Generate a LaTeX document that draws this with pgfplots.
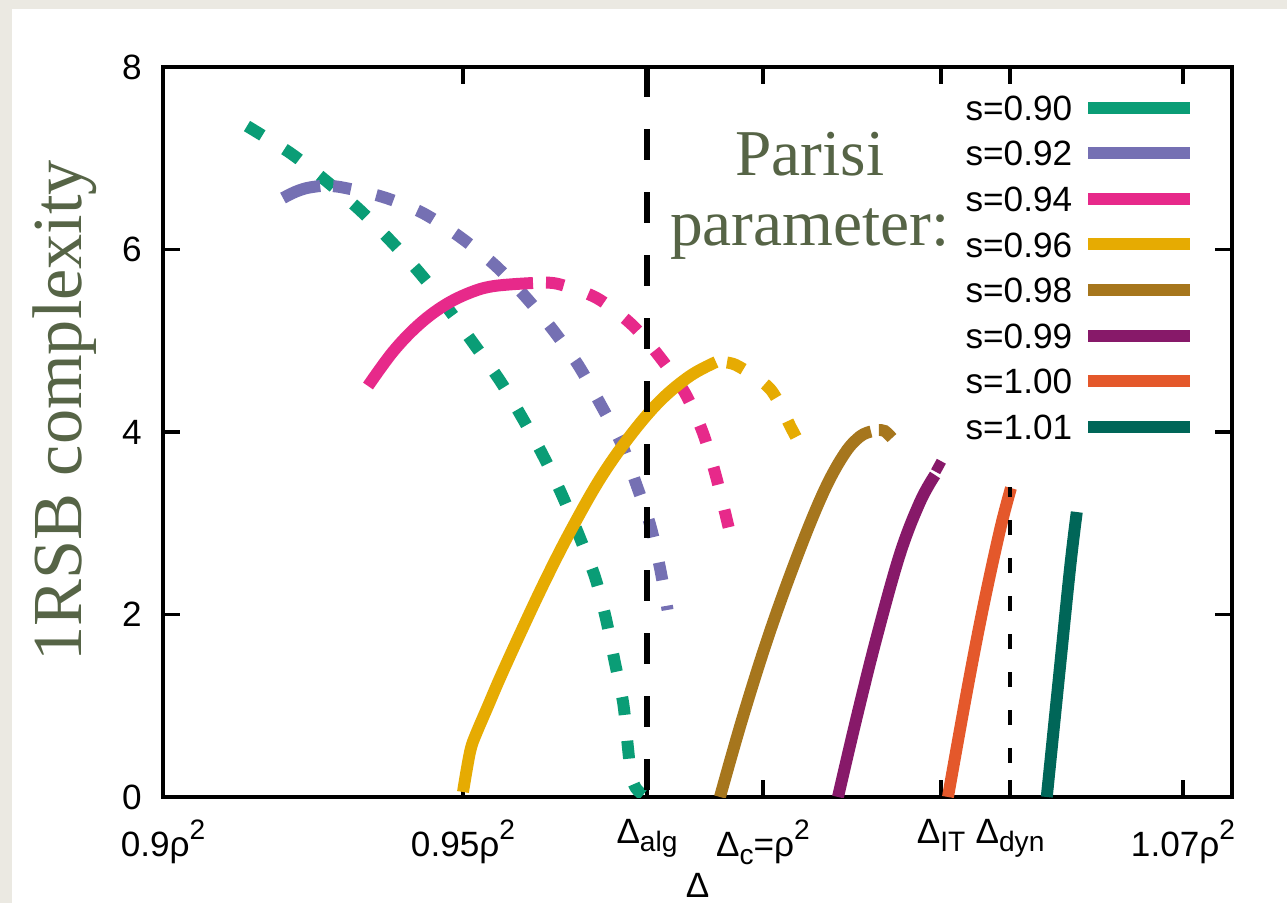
\documentclass[border=0pt]{standalone}
\usepackage{pgfplots}
\pgfplotsset{compat=1.18}
\usepackage{fontspec}
\setmainfont{Liberation Sans}
\newfontfamily\labelserif{Liberation Serif}

\definecolor{bgpaper}{RGB}{235,233,226}
\definecolor{olive}{RGB}{86,100,70}
\definecolor{cA}{RGB}{10,157,118}
\definecolor{cB}{RGB}{117,112,179}
\definecolor{cC}{RGB}{231,41,138}
\definecolor{cD}{RGB}{230,171,2}
\definecolor{cE}{RGB}{166,118,29}
\definecolor{cF}{RGB}{135,25,105}
\definecolor{cG}{RGB}{228,88,43}
\definecolor{cH}{RGB}{0,102,88}

% gnuplot-like super/subscripts
\newcommand\sq{\raisebox{5pt}{\fontsize{8}{8}\selectfont 2}}
\newcommand\sub[1]{\raisebox{-2.3pt}{\fontsize{8}{8}\selectfont #1}}

\pgfplotsset{
  stable/.style={line width=3.4pt, smooth, tension=0.6},
  unstable/.style={line width=3.4pt, smooth, tension=0.5, dash pattern=on 1.8mm off 2.6mm},
}

\begin{document}
\begin{tikzpicture}
\fill[bgpaper] (0,0) rectangle (128.7mm,90.3mm);
\fill[white] (1.2mm,0) rectangle (128.7mm,89.4mm);
\begin{axis}[
  at={(16.3mm,10.6mm)}, anchor=south west,
  scale only axis, width=106.9mm, height=73mm,
  xmin=0.9, xmax=1.07817, ymin=0, ymax=8,
  xtick={0.9,0.95,0.98067,1.0,1.02967,1.04117,1.07},
  xticklabels={{0.9ρ\sq},{0.95ρ\sq},{Δ\sub{alg}},{Δ\sub{c}=ρ\sq},{Δ\sub{IT}},{Δ\sub{dyn}},{1.07ρ\sq}},
  ytick={0,2,4,6,8},
  tick align=inside, major tick length=1.7mm,
  every tick/.style={black, line width=0.9pt},
  axis line style={line width=0.9pt},
  tick label style={font=\fontsize{10}{12}\selectfont},
  yticklabel style={xshift=-0.9mm},
  xticklabel style={yshift=-1.0mm},
  /pgf/number format/assume math mode=true,
  xlabel={Δ},
  xlabel style={at={(axis description cs:0.5,0)}, anchor=center, yshift=-8.8mm, font=\fontsize{10}{12}\selectfont},
  ylabel={1RSB complexity},
  ylabel style={at={(axis description cs:-0.0758,0.529)}, anchor=base, font=\labelserif\fontsize{20}{24}\selectfont, text=olive},
  legend plot pos=right,
  legend cell align=right,
  legend style={at={(axis description cs:0.9664,0.9616)}, anchor=north east, draw=none, fill=none,
    inner sep=0pt, outer sep=0pt, font=\fontsize{10}{12}\selectfont, row sep=5.77pt, column sep=1.0mm,
    nodes={inner sep=0pt, text height=7.2pt, text depth=0pt}},
  legend image code/.code={\draw[#1] (0mm,0mm) -- (10.2mm,0mm);},
]
% s = 0.90
\addplot[cA, unstable, forget plot] coordinates {
  (0.9140,7.353) (0.9212,7.058) (0.9270,6.762) (0.9328,6.433) (0.9378,6.104)
  (0.9428,5.742) (0.9473,5.370) (0.9517,4.975) (0.9562,4.559) (0.9598,4.164)
  (0.9633,3.748) (0.9665,3.310) (0.9693,2.871) (0.9720,2.411) (0.9738,1.962)
  (0.9753,1.479) (0.9767,1.030) (0.9775,0.537) (0.9780,0.241) (0.9788,0.099)
  (0.9800,0.022)
};
% s = 0.92
\addplot[cB, stable, forget plot] coordinates {
  (0.9200,6.564) (0.9220,6.630) (0.9240,6.674) (0.9262,6.696)
};
\addplot[cB, unstable, dash phase=3.1mm, forget plot] coordinates {
  (0.9262,6.696) (0.9295,6.685) (0.9367,6.575) (0.9433,6.400) (0.9495,6.137)
  (0.9553,5.830) (0.9603,5.490) (0.9650,5.118) (0.9692,4.734) (0.9728,4.318)
  (0.9765,3.858) (0.9788,3.441) (0.9812,2.981) (0.9828,2.521) (0.9841,2.050)
};
% s = 0.94
\addplot[cC, stable, forget plot] coordinates {
  (0.93417,4.504) (0.93833,4.880) (0.94250,5.168) (0.94667,5.378) (0.95083,5.518)
  (0.95500,5.598) (0.96167,5.633)
};
\addplot[cC, unstable, dash phase=3.1mm, forget plot] coordinates {
  (0.96167,5.633) (0.9657,5.625) (0.9723,5.468) (0.9782,5.173) (0.9828,4.822)
  (0.9870,4.427) (0.9900,3.989) (0.9922,3.507) (0.9943,2.948)
};
% s = 0.96
\addplot[cD, stable, forget plot] coordinates {
  (0.95000,0.055) (0.95067,0.318) (0.95133,0.537) (0.95217,0.690) (0.95417,0.997)
  (0.95617,1.304) (0.95950,1.786) (0.96367,2.367) (0.96783,2.904) (0.97283,3.485)
  (0.97783,3.956) (0.98283,4.340) (0.98783,4.614) (0.99217,4.767)
};
\addplot[cD, unstable, dash phase=3.3mm, forget plot] coordinates {
  (0.99217,4.767) (0.9955,4.734) (1.0012,4.471) (1.0047,4.044) (1.0055,3.945)
};
% s = 0.98
\addplot[cE, stable, forget plot] coordinates {
  (0.99283,0.000) (0.99667,0.882) (1.00117,1.814) (1.00617,2.718) (1.01033,3.375)
  (1.01367,3.770) (1.01617,3.951) (1.01800,4.005)
};
\addplot[cE, unstable, forget plot] coordinates {
  (1.0193,4.022) (1.0203,4.011) (1.0215,3.934)
};
% s = 0.99
\addplot[cF, stable, forget plot] coordinates {
  (1.01250,0.000) (1.01567,0.888) (1.01900,1.764) (1.02283,2.663) (1.02617,3.233)
  (1.02867,3.529)
};
\addplot[cF, unstable, forget plot] coordinates {
  (1.0285,3.649) (1.0300,3.595)
};
% s = 1.00
\addplot[cG, stable, forget plot] coordinates {
  (1.03083,0.000) (1.03400,1.162) (1.03667,2.071) (1.03950,2.926) (1.04133,3.386)
};
% s = 1.01
\addplot[cH, stable, forget plot] coordinates {
  (1.0473,0.000) (1.0495,1.425) (1.0512,2.521) (1.0523,3.123)
};
% thresholds
\addplot[black, line width=1.9pt, dash pattern=on 3.1mm off 3.2mm, dash phase=5.6mm, forget plot]
  coordinates {(0.98067,0) (0.98067,8)};
\addplot[black, line width=1.4pt, dash pattern=on 1.5mm off 2.3mm, dash phase=0.4mm, forget plot]
  coordinates {(1.04117,0) (1.04117,3.40)};

\node[anchor=base, font=\labelserif\fontsize{18.6}{22}\selectfont, text=olive] at (axis cs:1.00783,6.816) {Parisi};
\node[anchor=base, font=\labelserif\fontsize{18.6}{22}\selectfont, text=olive] at (axis cs:1.00783,6.049) {parameter:};

\addlegendimage{cA, line width=3.4pt}\addlegendentry{s=0.90}
\addlegendimage{cB, line width=3.4pt}\addlegendentry{s=0.92}
\addlegendimage{cC, line width=3.4pt}\addlegendentry{s=0.94}
\addlegendimage{cD, line width=3.4pt}\addlegendentry{s=0.96}
\addlegendimage{cE, line width=3.4pt}\addlegendentry{s=0.98}
\addlegendimage{cF, line width=3.4pt}\addlegendentry{s=0.99}
\addlegendimage{cG, line width=3.4pt}\addlegendentry{s=1.00}
\addlegendimage{cH, line width=3.4pt}\addlegendentry{s=1.01}
\end{axis}
\pgfresetboundingbox
\useasboundingbox (0,0) rectangle (128.7mm,90.3mm);
\end{tikzpicture}
\end{document}
